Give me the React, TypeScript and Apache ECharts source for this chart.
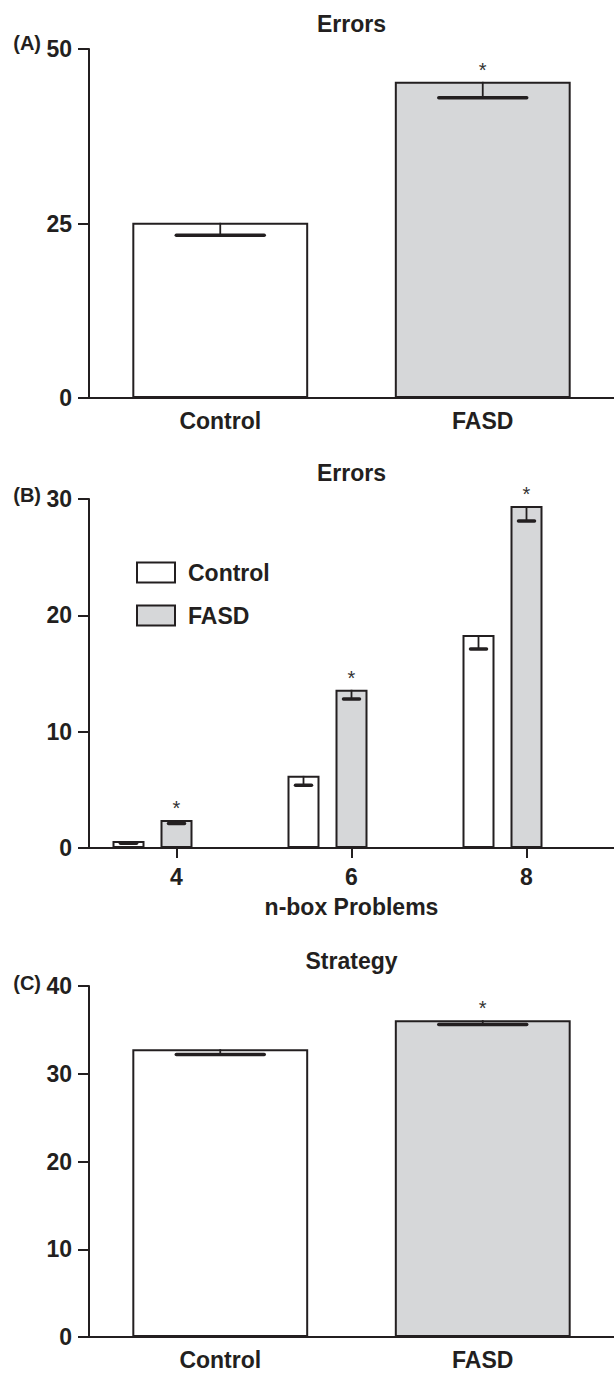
import React, { useEffect, useRef } from "react";
import * as echarts from "echarts";

const INK = "#231f20";
const GRAY = "#d6d7d9";
const FONT = "'Liberation Sans', Arial, Helvetica, sans-serif";

// Panel A – Errors
const groupCategories = ["Control", "FASD"];
const errorsMean = [25.1, 45.3];
const errorsLower = [23.3, 43.0];
const errorsSig = [false, true];

// Panel B – Errors by n-box problem
const nBoxCategories = ["4", "6", "8"];
const controlErrors = [0.6, 6.2, 18.3];
const controlErrorsLower = [0.4, 5.4, 17.1];
const fasdErrors = [2.4, 13.6, 29.4];
const fasdErrorsLower = [2.1, 12.8, 28.1];
const fasdErrorsSig = [true, true, true];

// Panel C – Strategy
const strategyMean = [32.8, 36.1];
const strategyLower = [32.2, 35.6];
const strategySig = [false, true];

const groupColors = ["#ffffff", GRAY];

const bold = { fontFamily: FONT, fontWeight: "bold", fontSize: 23, color: INK };

function yAxis(gridIndex: number, max: number, interval: number) {
  return {
    type: "value",
    gridIndex,
    min: 0,
    max,
    interval,
    axisLine: { show: true, lineStyle: { color: INK, width: 2 } },
    axisTick: { show: true, length: 11, lineStyle: { color: INK, width: 2 } },
    axisLabel: { ...bold, margin: 17 },
    splitLine: { show: false },
  };
}

function errorSeries(
  xAxisIndex: number,
  means: number[],
  lowers: number[],
  offsetBars: number,
  barPx: number | null,
  gapPx: number
) {
  return {
    type: "custom",
    xAxisIndex,
    yAxisIndex: xAxisIndex,
    z: 5,
    silent: true,
    data: means.map((m, i) => [i, m, lowers[i]]),
    encode: { x: 0, y: [1, 2] },
    renderItem: (params: any, api: any) => {
      const ci = api.value(0);
      const hi = api.coord([ci, api.value(1)]);
      const lo = api.coord([ci, api.value(2)]);
      const band = api.size([1, 0])[0];
      const bw = barPx == null ? band * 0.67 : barPx;
      const x = hi[0] + offsetBars * (bw + gapPx);
      const half = bw / 4;
      return {
        type: "group",
        children: [
          {
            type: "line",
            shape: { x1: x, y1: hi[1], x2: x, y2: lo[1] },
            style: { stroke: INK, lineWidth: 1.8 },
          },
          {
            type: "line",
            shape: { x1: x - half, y1: lo[1], x2: x + half, y2: lo[1] },
            style: { stroke: INK, lineWidth: 3.5, lineCap: "round" },
          },
        ],
      };
    },
  };
}

function sigLabel(sig: boolean[]) {
  return {
    show: true,
    position: "top",
    distance: 2,
    formatter: (p: any) => (sig[p.dataIndex] ? "*" : ""),
    fontFamily: FONT,
    fontSize: 20,
    color: "#333",
  };
}

function boldG(size: number) {
  return { fontFamily: FONT, fontWeight: "bold", fontSize: size, fill: INK };
}

export default function App() {
  const ref = useRef<HTMLDivElement>(null);

  useEffect(() => {
    if (!ref.current) return;
    const chart = echarts.init(ref.current, null, { renderer: "svg" });

    const barBorder = { borderColor: INK, borderWidth: 2 };

    const option: any = {
      animation: false,
      backgroundColor: "#ffffff",
      textStyle: { fontFamily: FONT },
      grid: [
        { left: 89, top: 49, width: 525, height: 349 },
        { left: 89, top: 499, width: 525, height: 349 },
        { left: 89, top: 986, width: 525, height: 351 },
      ],
      legend: {
        data: ["Control", "FASD"],
        orient: "vertical",
        left: 136,
        top: 561,
        padding: 0,
        itemWidth: 38,
        itemHeight: 20,
        itemGap: 20,
        icon: "rect",
        itemStyle: { borderColor: INK, borderWidth: 2 },
        textStyle: { ...bold, padding: [0, 0, 0, 8] },
        selectedMode: false,
      },
      xAxis: [
        {
          type: "category",
          gridIndex: 0,
          data: groupCategories,
          axisLine: { lineStyle: { color: INK, width: 2 } },
          axisTick: { show: false },
          axisLabel: { ...bold, margin: 11 },
        },
        {
          type: "category",
          gridIndex: 1,
          data: nBoxCategories,
          name: "n-box Problems",
          nameLocation: "middle",
          nameGap: 47,
          nameTextStyle: { ...bold },
          axisLine: { lineStyle: { color: INK, width: 2 } },
          axisTick: { show: true, alignWithLabel: true, length: 10, lineStyle: { color: INK, width: 2 } },
          axisLabel: { ...bold, margin: 17 },
        },
        {
          type: "category",
          gridIndex: 2,
          data: groupCategories,
          axisLine: { lineStyle: { color: INK, width: 2 } },
          axisTick: { show: false },
          axisLabel: { ...bold, margin: 11 },
        },
      ],
      yAxis: [yAxis(0, 50, 25), yAxis(1, 30, 10), yAxis(2, 40, 10)],
      graphic: [
        { type: "text", x: 351.5, y: 24, style: { text: "Errors", ...boldG(23), textAlign: "center", textVerticalAlign: "middle" } },
        { type: "text", x: 351.5, y: 473, style: { text: "Errors", ...boldG(23), textAlign: "center", textVerticalAlign: "middle" } },
        { type: "text", x: 351.5, y: 961, style: { text: "Strategy", ...boldG(23), textAlign: "center", textVerticalAlign: "middle" } },
        { type: "text", x: 41, y: 43, style: { text: "(A)", ...boldG(20), textAlign: "right", textVerticalAlign: "middle" } },
        { type: "text", x: 41, y: 495, style: { text: "(B)", ...boldG(20), textAlign: "right", textVerticalAlign: "middle" } },
        { type: "text", x: 41, y: 983, style: { text: "(C)", ...boldG(20), textAlign: "right", textVerticalAlign: "middle" } },
      ],
      series: [
        {
          name: "Errors",
          type: "bar",
          xAxisIndex: 0,
          yAxisIndex: 0,
          barWidth: "67%",
          data: errorsMean.map((v, i) => ({ value: v, itemStyle: { color: groupColors[i], ...barBorder } })),
          label: sigLabel(errorsSig),
        },
        errorSeries(0, errorsMean, errorsLower, 0, null, 0),
        {
          name: "Control",
          type: "bar",
          xAxisIndex: 1,
          yAxisIndex: 1,
          barWidth: 32,
          barGap: "50%",
          itemStyle: { color: "#ffffff", ...barBorder },
          data: controlErrors,
        },
        {
          name: "FASD",
          type: "bar",
          xAxisIndex: 1,
          yAxisIndex: 1,
          barWidth: 32,
          barGap: "50%",
          itemStyle: { color: GRAY, ...barBorder },
          data: fasdErrors,
          label: sigLabel(fasdErrorsSig),
        },
        {
          name: "spacer",
          type: "bar",
          xAxisIndex: 1,
          yAxisIndex: 1,
          barWidth: 32,
          barGap: "50%",
          silent: true,
          itemStyle: { color: "rgba(0,0,0,0)", borderWidth: 0 },
          data: nBoxCategories.map(() => 0),
        },
        errorSeries(1, controlErrors, controlErrorsLower, -1, 32, 16),
        errorSeries(1, fasdErrors, fasdErrorsLower, 0, 32, 16),
        {
          name: "Strategy",
          type: "bar",
          xAxisIndex: 2,
          yAxisIndex: 2,
          barWidth: "67%",
          data: strategyMean.map((v, i) => ({ value: v, itemStyle: { color: groupColors[i], ...barBorder } })),
          label: sigLabel(strategySig),
        },
        errorSeries(2, strategyMean, strategyLower, 0, null, 0),
      ],
    };

    chart.setOption(option);
    return () => chart.dispose();
  }, []);

  return (
    <div
      ref={ref}
      style={{ position: "absolute", left: 0, top: 0, width: 614, height: 1374, background: "#fff" }}
    />
  );
}
